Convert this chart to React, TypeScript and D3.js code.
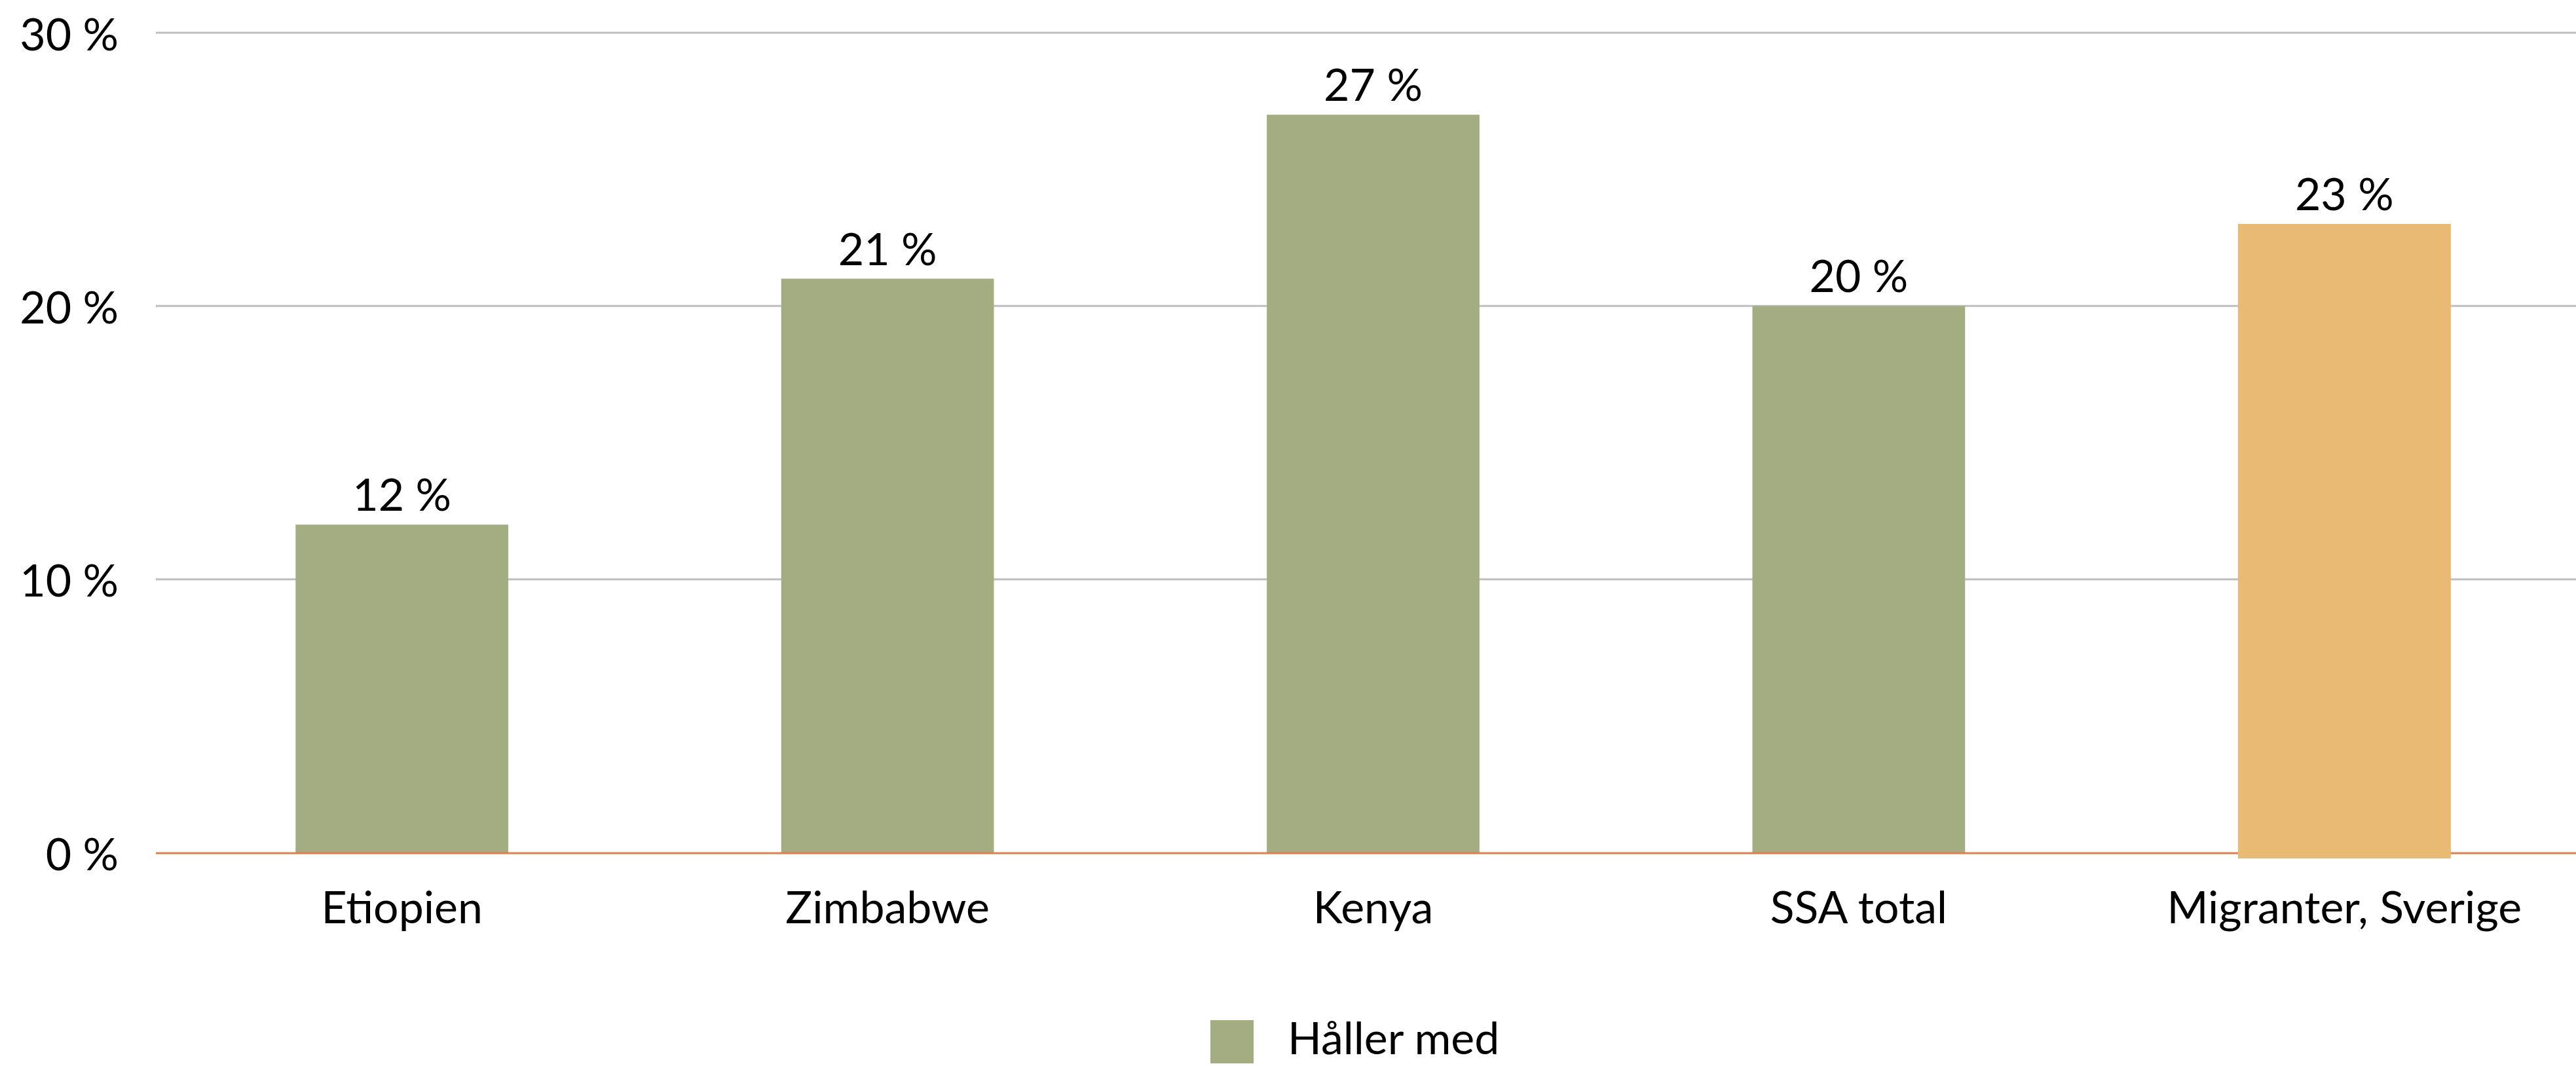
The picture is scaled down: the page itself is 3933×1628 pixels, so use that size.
import * as d3 from "d3";

// chart data
const categories = ["Etiopien", "Zimbabwe", "Kenya", "SSA total", "Migranter, Sverige"];
const values = [12, 21, 27, 20, 23];
const highlighted = ["Migranter, Sverige"];
const yTicks = [0, 10, 20, 30];
const legendLabel = "Håller med";

const width = 3933;
const height = 1628;
const margin = { top: 50, right: 0, bottom: 326, left: 240 };
const fontFamily = "Lato, 'Open Sans', sans-serif";
const fontSize = 68;

const green = "#A4AC81";
const orange = "#E9BA74";

const App = () => {
  const x = d3
    .scaleBand()
    .domain(categories)
    .range([margin.left + 3, margin.left + 3 + 741.4 * categories.length])
    .paddingInner(0.562)
    .paddingOuter(0.281);

  const y = d3
    .scaleLinear()
    .domain([0, 30])
    .range([height - margin.bottom, margin.top]);

  const y0 = y(0);

  return (
    <svg
      width={width}
      height={height}
      style={{ position: "absolute", left: 0, top: 0, background: "#fff" }}
      fontFamily={fontFamily}
    >
      {/* Gridlines and tick labels */}
      {yTicks.map((t) => (
        <g key={t}>
          {t !== 0 && (
            <line
              x1={margin.left - 2}
              x2={width}
              y1={y(t)}
              y2={y(t)}
              stroke="#BFBFBF"
              strokeWidth={3}
            />
          )}
          <text
            x={181}
            y={y(t)}
            textAnchor="end"
            dominantBaseline="central"
            fontSize={fontSize}
            fill="#000"
          >
            {`${t} %`}
          </text>
        </g>
      ))}

      {/* Bars */}
      {categories.map((c, i) => {
        const isHi = highlighted.includes(c);
        return (
          <g key={c}>
            <rect
              x={x(c)}
              y={y(values[i])}
              width={x.bandwidth()}
              height={y0 - y(values[i]) + (isHi ? 9 : 0)}
              fill={isHi ? orange : green}
            />
            <text
              x={(x(c) ?? 0) + x.bandwidth() / 2}
              y={y(values[i]) - 21}
              textAnchor="middle"
              fontSize={fontSize}
              fill="#000"
            >
              {`${values[i]} %`}
            </text>
          </g>
        );
      })}

      {/* Zero axis */}
      <line
        x1={margin.left - 2}
        x2={width}
        y1={y0 + 1}
        y2={y0 + 1}
        stroke="#E07F4C"
        strokeWidth={3}
      />
      {/* redraw highlighted bar over the axis */}
      {categories
        .filter((c) => highlighted.includes(c))
        .map((c) => {
          const v = values[categories.indexOf(c)];
          return (
            <rect
              key={c}
              x={x(c)}
              y={y(v)}
              width={x.bandwidth()}
              height={y0 - y(v) + 9}
              fill={orange}
            />
          );
        })}

      {/* Category labels */}
      {categories.map((c) => (
        <text
          key={c}
          x={(x(c) ?? 0) + x.bandwidth() / 2}
          y={y0 + 108}
          textAnchor="middle"
          fontSize={fontSize}
          fill="#000"
        >
          {c}
        </text>
      ))}

      {/* Legend */}
      <g>
        <rect x={1848} y={1558} width={66} height={66} fill={green} />
        <text x={1966} y={1610} fontSize={fontSize} fill="#000">
          {legendLabel}
        </text>
      </g>
    </svg>
  );
};

export default App;
